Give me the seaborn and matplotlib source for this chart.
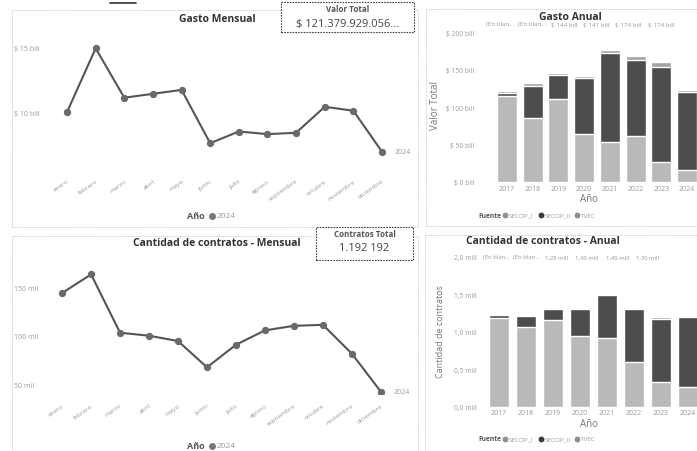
import matplotlib
matplotlib.use("Agg")
import matplotlib.pyplot as plt
from matplotlib.lines import Line2D
from matplotlib.patches import Rectangle
import numpy as np
import pandas as pd
import seaborn as sns

# ---- data ----
meses = ["enero", "febrero", "marzo", "abril", "mayo", "junio", "julio",
         "agosto", "septiembre", "octubre", "noviembre", "diciembre"]
gasto_mensual = [10.0, 14.9, 11.1, 11.4, 11.7, 7.6, 8.5, 8.3, 8.4, 10.4, 10.1, 6.95]  # bill
contratos_mensual = [143.8, 163.0, 102.9, 99.8, 94.3, 67.2, 90.5, 105.3, 110.0, 111.0, 81.3, 42.0]  # mil

anios = ["2017", "2018", "2019", "2020", "2021", "2022", "2023", "2024"]
gasto_secop1 = [115.2, 85.3, 110.7, 63.4, 54.0, 61.2, 26.8, 16.0]
gasto_secop2 = [4.0, 43.3, 32.2, 75.9, 118.3, 101.8, 125.9, 103.6]
gasto_tvec = [2.2, 3.1, 2.6, 2.7, 3.6, 4.4, 7.6, 3.6]
cont_secop1 = [1.183, 1.071, 1.156, 0.938, 0.920, 0.594, 0.326, 0.259]
cont_secop2 = [0.036, 0.139, 0.144, 0.362, 0.567, 0.706, 0.848, 0.933]
cont_tvec = [0.013, 0.010, 0.017, 0.017, 0.017, 0.017, 0.018, 0.013]

etiquetas_gasto = ["(En blan...", "(En blan...", "$ 144 bill", "$ 141 bill", "$ 174 bill", "$ 174 bill"]
etiquetas_cont = ["(En blan...", "(En blan...", "1,28 mill", "1,49 mill", "1,49 mill", "1,30 mill"]
fuentes = ["SECOP_I", "SECOP_II", "TVEC"]

valor_total = "$ 121.379.929.056..."
contratos_total = "1.192 192"

# ---- style ----
sns.set_theme(style="white")
plt.rcParams["font.family"] = ["Open Sans", "DejaVu Sans"]

W, H = 697, 452
fig = plt.figure(figsize=(W / 100, H / 100), dpi=100)
fig.patch.set_facecolor("white")

TXT = "#9a9a9a"
DARK = "#333333"
LINE = "#555555"
C1, C2, C3 = "#b9b9b9", "#4d4d4d", "#a3a3a3"


def rect(l, t, r, b):
    return [l / W, 1 - b / H, (r - l) / W, (b - t) / H]


def fx(x):
    return x / W


def fy(y):
    return 1 - y / H


# panel borders (dotted)
for l, t, r, b in [(12, 11, 418, 228), (426, 10, 700, 227), (12, 237, 418, 455), (425, 236, 700, 455)]:
    fig.add_artist(Rectangle((fx(l), fy(b)), (r - l) / W, (b - t) / H, transform=fig.transFigure,
                             fill=False, ec="#c8c8c8", lw=0.7, ls=(0, (1, 1))))


def linea(ax, valores, yticks, ytlabels, pad):
    df = pd.DataFrame({"x": np.arange(len(meses)), "v": valores})
    sns.lineplot(data=df, x="x", y="v", ax=ax, color=LINE, lw=1.5, marker="o",
                 markersize=4.5, markerfacecolor="#6a6a6a", markeredgecolor="#6a6a6a")
    ax.set_xticks(np.arange(len(meses)))
    ax.set_xticklabels(meses, rotation=35, ha="right", rotation_mode="anchor")
    ax.set_yticks(yticks)
    ax.set_yticklabels(ytlabels)
    ax.tick_params(axis="x", labelsize=4.6, colors=TXT, length=0, pad=pad)
    ax.tick_params(axis="y", labelsize=5, colors=TXT, length=0, pad=2)
    for lab in ax.get_yticklabels():
        lab.set_horizontalalignment("left")
        lab.set_x(-0.08)
    ax.set_xlabel("")
    ax.set_ylabel("")
    sns.despine(ax=ax, left=True, bottom=True)
    ax.set_facecolor("none")
    ax.text(len(meses) - 1 + 0.45, valores[-1], "2024", fontsize=5, color=TXT, va="center")


def barras(ax, s1, s2, s3, width):
    df = pd.DataFrame({"anio": anios,
                       "total": np.array(s1) + np.array(s2) + np.array(s3),
                       "s12": np.array(s1) + np.array(s2),
                       "s1": s1})
    sns.barplot(data=df, x="anio", y="total", ax=ax, color=C3, saturation=1, width=width)
    sns.barplot(data=df, x="anio", y="s12", ax=ax, color=C2, saturation=1, width=width)
    sns.barplot(data=df, x="anio", y="s1", ax=ax, color=C1, saturation=1, width=width)
    ax.tick_params(axis="x", labelsize=5, colors=TXT, length=0, pad=2)
    ax.tick_params(axis="y", labelsize=4.8, colors=TXT, length=0, pad=4)
    ax.set_xlabel("Año", fontsize=7, color="#777777", labelpad=1)
    sns.despine(ax=ax, left=True, bottom=True)
    ax.set_facecolor("none")


def leyenda_barras(ly):
    fig.text(fx(478), fy(ly), "Fuente", ha="left", va="center", fontsize=4.8, weight="bold", color="#555555")
    xs = 505
    for nombre, col in zip(fuentes, ["#8f8f8f", "#3a3a3a", "#8f8f8f"]):
        fig.add_artist(Line2D([fx(xs)], [fy(ly)], marker="o", ms=3.2, color=col, transform=fig.transFigure))
        fig.text(fx(xs + 4), fy(ly), nombre, ha="left", va="center", fontsize=4.6, color=TXT)
        xs += 36


# ---- Gasto Mensual ----
ax1 = fig.add_axes(rect(45, 25, 400, 165))
linea(ax1, gasto_mensual, [10, 15], ["$ 10 bill", "$ 15 bill"], 10)
ax1.set_ylim(6.0, 16.77)
ax1.set_xlim(-0.77, 11.63)
fig.text(fx(217), fy(19), "Gasto Mensual", ha="center", va="center", fontsize=7.5, weight="bold", color=DARK)

# ---- Cantidad de contratos - Mensual ----
ax3 = fig.add_axes(rect(45, 250, 400, 395))
linea(ax3, contratos_mensual, [50, 100, 150], ["50 mil", "100 mil", "150 mil"], 6)
ax3.set_ylim(39.7, 189.2)
ax3.set_xlim(-0.59, 11.66)
fig.text(fx(217), fy(244), "Cantidad de contratos - Mensual", ha="center", va="center",
         fontsize=7.5, weight="bold", color=DARK)

# legends for line charts
for ly in (217, 447):
    fig.text(fx(205), fy(ly), "Año", ha="right", va="center", fontsize=6.5, weight="bold", color="#555555")
    fig.add_artist(Line2D([fx(212)], [fy(ly)], marker="o", ms=4, color="#777777", transform=fig.transFigure))
    fig.text(fx(217), fy(ly), "2024", ha="left", va="center", fontsize=6, color=TXT)

# ---- Gasto Anual ----
ax2 = fig.add_axes(rect(480, 28, 697, 183))
barras(ax2, gasto_secop1, gasto_secop2, gasto_tvec, 0.78)
ax2.set_ylim(0, 206.7)
ax2.set_xlim(-1.05, 7.39)
ax2.set_yticks([0, 50, 100, 150, 200])
ax2.set_yticklabels(["$ 0 bill", "$ 50 bill", "$ 100 bill", "$ 150 bill", "$ 200 bill"])
ax2.set_ylabel("Valor Total", fontsize=7, color="#777777", labelpad=4)
for i, t in enumerate(etiquetas_gasto):
    ax2.text(-0.27 + 1.25 * i, 1.02, t, transform=ax2.get_xaxis_transform(),
             ha="center", va="center", fontsize=4.5, color=TXT, clip_on=False)
fig.text(fx(570), fy(18), "Gasto Anual", ha="center", va="center", fontsize=7.5, weight="bold", color=DARK)
leyenda_barras(216)

# ---- Cantidad de contratos - Anual ----
ax4 = fig.add_axes(rect(482, 255, 697, 407.7))
barras(ax4, cont_secop1, cont_secop2, cont_tvec, 0.77)
ax4.set_ylim(0, 2.04)
ax4.set_xlim(-0.63, 7.33)
ax4.set_yticks([0, 0.5, 1.0, 1.5, 2.0])
ax4.set_yticklabels(["0,0 mill", "0,5 mill", "1,0 mill", "1,5 mill", "2,0 mill"])
ax4.set_ylabel("Cantidad de contratos", fontsize=6.5, color="#777777", labelpad=6)
for i, t in enumerate(etiquetas_cont):
    ax4.text(-0.1 + 1.12 * i, 2.0, t, ha="center", va="center", fontsize=4.2, color=TXT, clip_on=False)
fig.text(fx(543), fy(242), "Cantidad de contratos - Anual", ha="center", va="center",
         fontsize=7.5, weight="bold", color=DARK)
leyenda_barras(440)

# ---- KPI cards ----
for (l, t, r, b), titulo, valor in [((281, 3, 414, 33), "Valor Total", valor_total),
                                     ((316, 228, 413, 261), "Contratos Total", contratos_total)]:
    fig.add_artist(Rectangle((fx(l), fy(b)), (r - l) / W, (b - t) / H, transform=fig.transFigure,
                             fc="white", ec="#444444", lw=0.8, ls=(0, (1.5, 1))))
    cx = (l + r) / 2
    fig.text(fx(cx), fy(t + 7), titulo, ha="center", va="center", fontsize=5.8, weight="bold", color="#555555")
    fig.text(fx(cx), fy(t + 21), valor, ha="center", va="center", fontsize=8, color="#444444")

# small header mark
fig.add_artist(Line2D([fx(110), fx(136)], [fy(4), fy(4)], color="#333333", lw=1.2, transform=fig.transFigure))

fig.savefig("out.png", dpi=100)
